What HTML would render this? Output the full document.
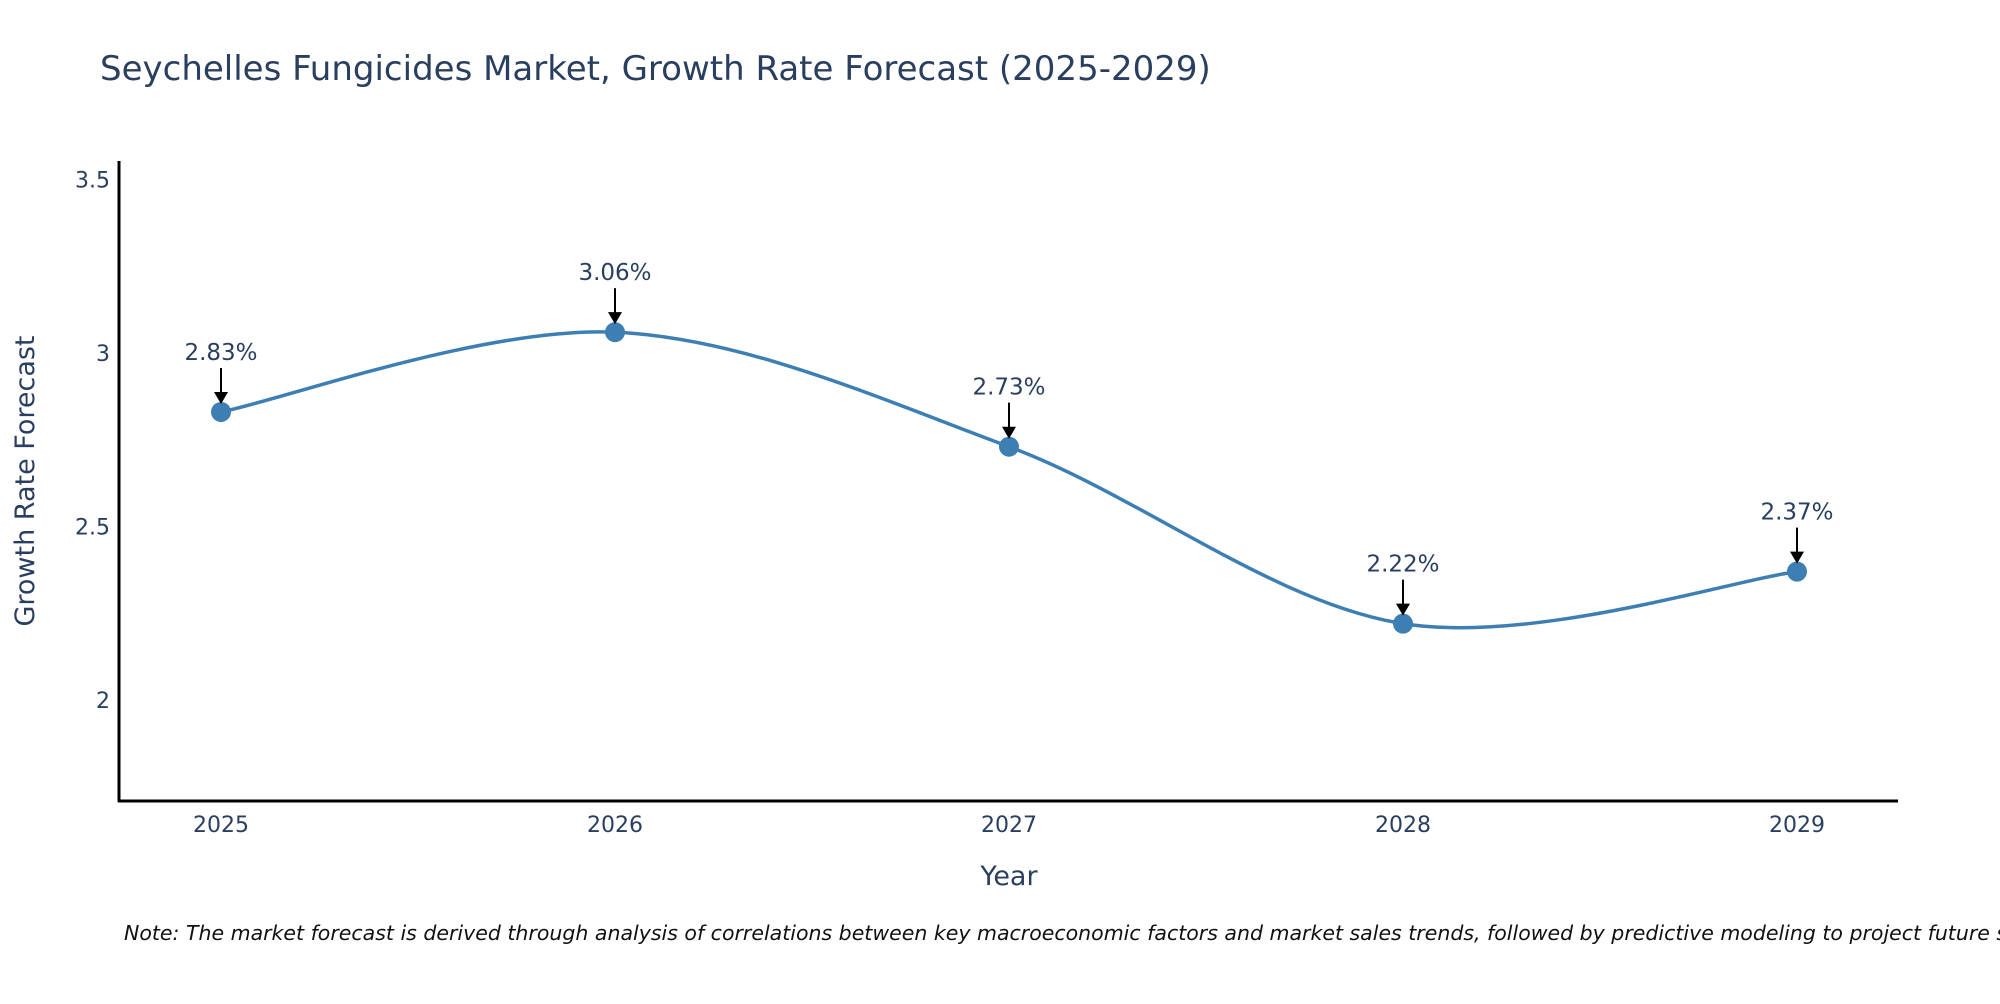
<!DOCTYPE html>
<html><head><meta charset="utf-8"><style>
body{margin:0;background:#fff;font-family:"DejaVu Sans","Liberation Sans",sans-serif;}
svg text{font-family:"DejaVu Sans","Liberation Sans",sans-serif;}
</style></head><body>
<svg id="chart" width="2000" height="1000" viewBox="0 0 2000 1000">
<text x="100" y="80" font-size="34" fill="#2a3f5f">Seychelles Fungicides Market, Growth Rate Forecast (2025-2029)</text>
<g id="yticks"></g>
<g id="xticks"></g>
<line x1="119" y1="161" x2="119" y2="802" stroke="#000" stroke-width="3"/>
<line x1="118" y1="801" x2="1898" y2="801" stroke="#000" stroke-width="3"/>
<text transform="translate(34,481) rotate(-90)" text-anchor="middle" font-size="27" fill="#2a3f5f">Growth Rate Forecast</text>
<text x="1009" y="885" text-anchor="middle" font-size="27" fill="#2a3f5f">Year</text>
<path id="line" fill="none" stroke="#3d7fb3" stroke-width="3.5"/>
<g id="marks"></g>
<text x="124" y="940" font-size="20.5" font-style="italic" fill="#111">Note: The market forecast is derived through analysis of correlations between key macroeconomic factors and market sales trends, followed by predictive modeling to project future sales.</text>
</svg>
<script>
const years = ["2025","2026","2027","2028","2029"];
const values = [2.83, 3.06, 2.73, 2.22, 2.37];
const yTickValues = [2, 2.5, 3, 3.5];
const yTickLabels = ["2", "2.5", "3", "3.5"];

const NS = "http://www.w3.org/2000/svg";
const x = i => 221 + i * 394;
const y = v => 700 - (v - 2) * 347;
function mk(tag, attrs, parent){const e=document.createElementNS(NS,tag);for(const k in attrs)e.setAttribute(k,attrs[k]);parent.appendChild(e);return e;}
const yt=document.getElementById('yticks');
yTickValues.forEach((v,i)=>{const t=mk('text',{x:110,y:y(v)+8,'text-anchor':'end','font-size':'22',fill:'#2a3f5f'},yt);


t.textContent=yTickLabels[i];});
const xt=document.getElementById('xticks');
years.forEach((yr,i)=>{const t=mk('text',{x:x(i),y:832,'text-anchor':'middle','font-size':'22',fill:'#2a3f5f'},xt);


t.textContent=yr;});
const pts=values.map((v,i)=>[x(i),y(v)]);
let d=`M${pts[0][0]},${pts[0][1]}`;const tn=0.33;
for(let i=0;i<pts.length-1;i++){const p0=pts[Math.max(0,i-1)],p1=pts[i],p2=pts[i+1],p3=pts[Math.min(pts.length-1,i+2)];
d+=` C${p1[0]+(p2[0]-p0[0])*tn/2},${p1[1]+(p2[1]-p0[1])*tn/2} ${p2[0]-(p3[0]-p1[0])*tn/2},${p2[1]-(p3[1]-p1[1])*tn/2} ${p2[0]},${p2[1]}`;}
document.getElementById('line').setAttribute('d',d);
const g=document.getElementById('marks');
values.forEach((v,i)=>{const cx=x(i),cy=y(v);
const c=mk('circle',{cx:cx,cy:cy,r:10,fill:'#3d7fb3'},g);


const l=mk('line',{x1:cx,y1:cy-44,x2:cx,y2:cy-18,stroke:'#000','stroke-width':2},g);


const a=mk('path',{d:`M${cx-7},${cy-20} L${cx+7},${cy-20} L${cx},${cy-8} Z`,fill:'#000'},g);


const t=mk('text',{x:cx,y:cy-52,'text-anchor':'middle','font-size':'23',fill:'#2a3f5f'},g);


t.textContent=v.toFixed(2)+'%';});
</script>
</body></html>
